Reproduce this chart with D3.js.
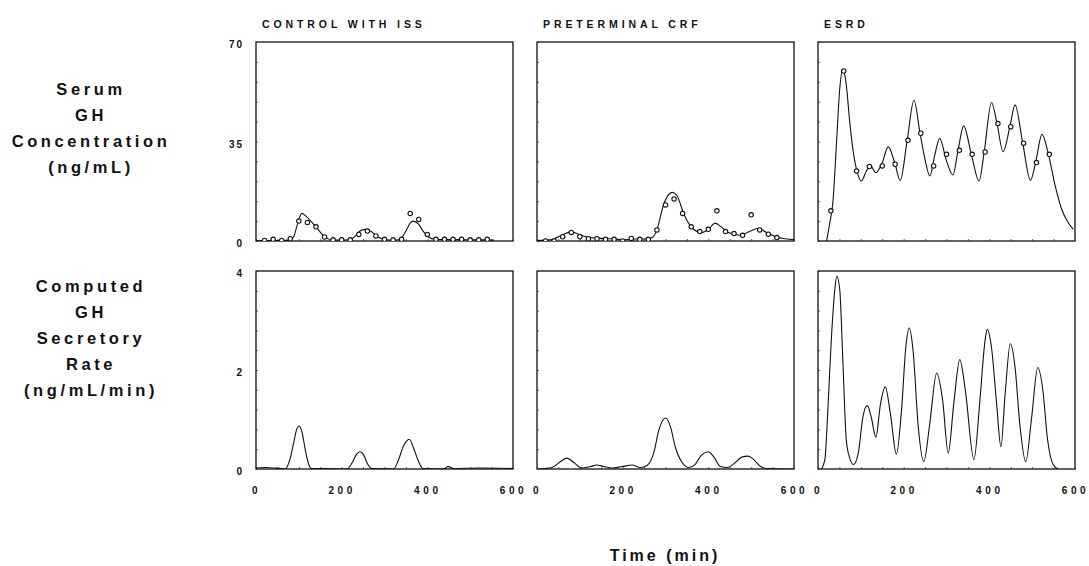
<!DOCTYPE html>
<html>
<head>
<meta charset="utf-8">
<script src="https://cdn.jsdelivr.net/npm/d3@7"></script>
<style>
  html, body { margin: 0; padding: 0; background: #fff; }
  svg { display: block; }
  text { font-family: "Liberation Sans", Arial, Helvetica, sans-serif; font-weight: bold; fill: #111; }
</style>
</head>
<body>
<svg id="chart" width="1089" height="566"></svg>
<script>
// ---------------- DATA ----------------
const columnTitles = ["CONTROL WITH ISS", "PRETERMINAL CRF", "ESRD"];
const rowLabelConc = ["Serum", "GH", "Concentration", "(ng/mL)"];
const rowLabelRate = ["Computed", "GH", "Secretory", "Rate", "(ng/mL/min)"];
const xLabel = "Time (min)";
const xTickLabels = [0, 200, 400, 600];
const concTickLabels = [0, 35, 70];
const rateTickLabels = [0, 2, 4];
const concMinorTicks = [0, 7, 14, 21, 28, 35, 42, 49, 56, 63, 70];
const rateMinorTicks = [0, 0.4, 0.8, 1.2, 1.6, 2, 2.4, 2.8, 3.2, 3.6, 4];
const xMinorTicks = [0, 50, 100, 150, 200, 250, 300, 350, 400, 450, 500, 550, 600];

// Serum GH concentration: observed samples (time, ng/mL)
const issObsTime = [20,40,60,80,100,120,140,160,180,200,220,240,260,280,300,320,340,360,380,400,420,440,460,480,500,520,540];
const issObsConc = [0.2,0.6,0.2,0.8,7.0,6.5,5.0,1.4,0.4,0.4,0.4,2.3,3.5,1.8,0.6,0.4,0.6,9.7,7.6,2.3,0.6,0.6,0.6,0.6,0.4,0.4,0.6];

const crfObsTime = [20,40,60,80,100,120,140,160,180,200,220,240,260,280,300,320,340,360,380,400,420,440,460,480,500,520,540,560];
const crfObsConc = [0.0,0.0,1.5,3.0,1.5,0.8,0.8,0.6,0.6,0.0,0.9,0.6,0.6,3.9,12.7,14.8,9.7,5.0,3.3,4.1,10.6,3.3,2.6,2.0,9.2,3.9,2.4,1.2];

const esrdObsTime = [30,60,90,120,150,180,210,240,270,300,330,360,390,420,450,480,510,540];
const esrdObsConc = [10.6,59.8,24.6,26.2,26.4,27.0,35.4,37.9,26.4,30.5,31.9,30.5,31.3,41.3,40.2,34.4,27.6,30.5];

// Fitted concentration curves (time, ng/mL)
const issFitTime = [0,20,40,60,80,88,96,107,118,130,141,153,165,180,200,219,231,243,254,266,282,297,320,336,348,360,367,379,390,402,418,440,470,500,530,555];
const issFitConc = [0.1,0.2,0.2,0.2,0.4,1.5,5.5,9.7,8.6,6.6,4.8,2.6,1.0,0.3,0.3,0.5,1.6,3.5,4.1,3.6,1.8,0.6,0.3,0.5,3.0,6.3,7.0,6.0,3.5,1.5,0.6,0.5,0.5,0.4,0.4,0.3];

const crfFitTime = [0,20,40,60,80,100,120,140,160,180,200,220,240,260,270,280,296,316,327,343,358,374,385,400,416,432,447,474,498,517,536,560,580,600];
const crfFitConc = [0.2,0.3,0.8,2.2,3.2,2.2,1.3,1.0,0.9,0.7,0.4,0.7,0.7,0.8,1.3,4.0,13.0,17.1,15.9,9.4,5.3,3.3,3.0,4.1,6.3,4.7,3.0,2.0,3.5,4.5,3.0,1.3,0.8,0.5];

const esrdFitTime = [20,27,35,43,51,58,66,74,82,91,101,113,122,135,150,164,179,192,208,224,238,249,261,273,284,300,315,327,340,358,376,388,405,418,432,448,460,478,496,508,523,538,553,569,584,596];
const esrdFitConc = [0,5.9,14,34,54,60.4,55,42,31.7,24.6,21.1,24.6,26.6,24.0,27.6,33.1,27.6,21.3,35.2,49.5,38.1,29.3,22.9,30.5,36.1,28.2,23.2,31.9,40.5,30.5,21.1,31.3,48.7,41.3,31.4,40.2,47.9,34.4,21.3,27.6,37.5,30.5,19.9,11.1,6.5,4.1];

// Computed GH secretory rate (time, ng/mL/min)
const issRateTime = [0,20,40,60,68,79,87,95,100,107,115,122,130,160,212,224,235,243,251,260,270,321,333,344,358,368,379,390,438,449,461,520,600];
const issRateVal  = [0.02,0.03,0.02,0.01,0,0.19,0.49,0.80,0.87,0.76,0.39,0.12,0.01,0.01,0,0.12,0.30,0.35,0.29,0.11,0.01,0,0.19,0.46,0.60,0.42,0.16,0.01,0,0.05,0.01,0.02,0.01];

const crfRateTime = [4,35,55,70,86,105,125,140,156,175,199,222,241,257,273,284,300,312,323,339,354,370,384,400,413,428,444,463,478,493,506,522,537,600];
const crfRateVal  = [0,0.03,0.15,0.22,0.13,0.02,0.05,0.08,0.05,0.02,0.05,0.08,0.03,0.07,0.34,0.77,1.03,0.84,0.44,0.13,0.03,0.10,0.28,0.35,0.24,0.05,0.03,0.13,0.24,0.26,0.19,0.05,0.01,0];

const esrdRateTime = [8,16,23,31,39,44,51,58,66,74,83,94,105,115,125,135,146,157,169,183,195,205,213,222,234,247,261,277,291,304,317,331,344,364,378,390,395,405,417,427,437,449,460,471,485,499,513,525,536,549,561];
const esrdRateVal  = [0,0.19,1.19,2.60,3.60,3.90,3.60,2.19,0.59,0.22,0.09,0.32,1.06,1.28,1.02,0.64,1.32,1.66,1.12,0.30,1.19,2.46,2.85,2.39,0.86,0.15,0.92,1.94,1.39,0.32,1.32,2.21,1.59,0.19,1.39,2.60,2.82,2.46,1.32,0.45,1.53,2.53,2.06,0.92,0.15,1.06,2.05,1.59,0.59,0.09,0];

// ---------------- LAYOUT ----------------
const svg = d3.select("#chart");
const colX = [256, 537, 818];
const panelW = 257;
const rowTop = [42, 271];
const panelH = [199, 198];

const concPanels = [
  {fitT: issFitTime, fitV: issFitConc, obsT: issObsTime, obsV: issObsConc},
  {fitT: crfFitTime, fitV: crfFitConc, obsT: crfObsTime, obsV: crfObsConc},
  {fitT: esrdFitTime, fitV: esrdFitConc, obsT: esrdObsTime, obsV: esrdObsConc}
];
const ratePanels = [
  {t: issRateTime, v: issRateVal},
  {t: crfRateTime, v: crfRateVal},
  {t: esrdRateTime, v: esrdRateVal}
];

function zip(a, b) { return a.map((d, i) => [d, b[i]]); }

const defs = svg.append("defs");

function drawPanel(col, row, yMax, minorTicks, tickLabels, drawFn) {
  const x0 = colX[col], y0 = rowTop[row], h = panelH[row];
  const x = d3.scaleLinear().domain([0, 600]).range([x0, x0 + panelW]);
  const y = d3.scaleLinear().domain([0, yMax]).range([y0 + h, y0]);
  const id = `clip-${row}-${col}`;
  defs.append("clipPath").attr("id", id).append("rect")
    .attr("x", x0).attr("y", y0).attr("width", panelW).attr("height", h);
  const g = svg.append("g");

  g.append("rect").attr("x", x0).attr("y", y0).attr("width", panelW).attr("height", h)
    .attr("fill", "none").attr("stroke", "#111").attr("stroke-width", 1.3);

  const yAxis = d3.axisRight(y).tickValues(minorTicks).tickSize(2).tickFormat("");
  g.append("g").attr("transform", `translate(${x0},0)`).call(yAxis)
    .call(s => s.select(".domain").remove())
    .selectAll("line").attr("stroke", "#333").attr("stroke-width", 0.8);

  const xAxis = d3.axisTop(x).tickValues(xMinorTicks).tickSize(2).tickFormat("");
  g.append("g").attr("transform", `translate(0,${y0 + h})`).call(xAxis)
    .call(s => s.select(".domain").remove())
    .selectAll("line").attr("stroke", "#333").attr("stroke-width", 0.8);

  if (col === 0) {
    const lab = d3.axisLeft(y).tickValues(tickLabels).tickSize(0).tickPadding(12).tickFormat(d3.format("d"));
    const la = g.append("g").attr("transform", `translate(${x0},0)`).call(lab);
    la.select(".domain").remove();
    la.selectAll("text")
      .attr("font-family", "Liberation Sans, Arial, sans-serif")
      .attr("font-weight", "bold")
      .attr("font-size", 10)
      .attr("letter-spacing", 2)
      .attr("dy", "0.55em")
      .attr("fill", "#111");
  }
  if (row === 1) {
    const lab = d3.axisBottom(x).tickValues(xTickLabels).tickSize(0).tickPadding(18).tickFormat(d3.format("d"));
    const la = g.append("g").attr("transform", `translate(0,${y0 + h})`).call(lab);
    la.select(".domain").remove();
    la.selectAll("text")
      .attr("font-family", "Liberation Sans, Arial, sans-serif")
      .attr("font-weight", "bold")
      .attr("font-size", 10)
      .attr("letter-spacing", 3.6)
      .attr("fill", "#111");
  }
  const inner = g.append("g").attr("clip-path", `url(#${id})`);
  drawFn(inner, x, y);
}

const line = (x, y) => d3.line().x(d => x(d[0])).y(d => y(d[1])).curve(d3.curveMonotoneX);

concPanels.forEach((p, i) => {
  drawPanel(i, 0, 70, concMinorTicks, concTickLabels, (g, x, y) => {
    g.append("path").datum(zip(p.fitT, p.fitV))
      .attr("d", line(x, y)).attr("fill", "none").attr("stroke", "#111").attr("stroke-width", 1.1);
    g.selectAll("circle").data(zip(p.obsT, p.obsV)).join("circle")
      .attr("cx", d => x(d[0])).attr("cy", d => y(d[1])).attr("r", 2.2)
      .attr("fill", "#fff").attr("stroke", "#111").attr("stroke-width", 1.1);
  });
});

ratePanels.forEach((p, i) => {
  drawPanel(i, 1, 4, rateMinorTicks, rateTickLabels, (g, x, y) => {
    g.append("path").datum(zip(p.t, p.v))
      .attr("d", line(x, y)).attr("fill", "none").attr("stroke", "#111").attr("stroke-width", 1.1);
  });
});

columnTitles.forEach((t, i) => {
  svg.append("text").attr("x", colX[i] + 6).attr("y", 28)
    .attr("font-size", 10.5).attr("letter-spacing", 3.9).text(t);
});

function rowLabel(lines, baselines) {
  lines.forEach((t, i) => {
    svg.append("text").attr("x", 91).attr("y", baselines[i])
      .attr("text-anchor", "middle").attr("font-size", 16.5).attr("letter-spacing", 3.6).text(t);
  });
}
rowLabel(rowLabelConc, [95, 121, 147, 173]);
rowLabel(rowLabelRate, [292, 318, 344, 370, 396]);

svg.append("text").attr("x", 665).attr("y", 561).attr("text-anchor", "middle")
  .attr("font-size", 16).attr("letter-spacing", 3).text(xLabel);
</script>
</body>
</html>
